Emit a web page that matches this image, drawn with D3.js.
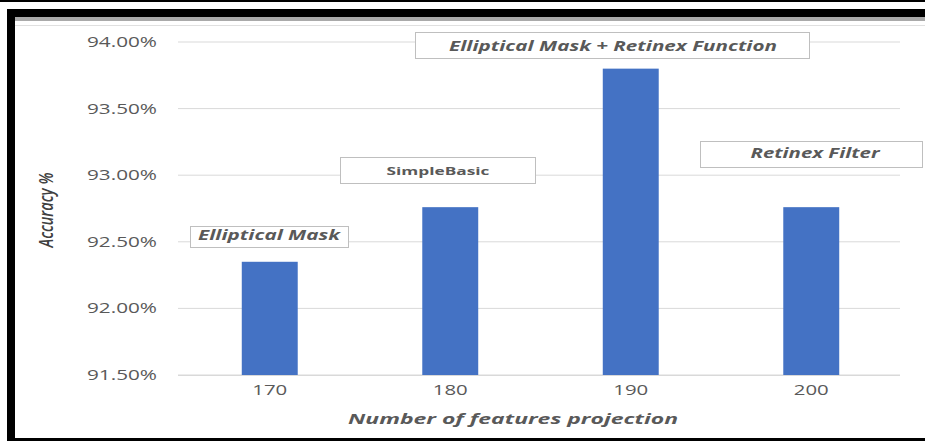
<!DOCTYPE html>
<html>
<head>
<meta charset="utf-8">
<script src="https://cdn.jsdelivr.net/npm/d3@7"></script>
<style>
  body { margin: 0; background: #fff; }
  svg { display: block; font-family: "Open Sans", sans-serif; }
</style>
</head>
<body>
<svg id="chart" width="925" height="441"></svg>
<script>
var categories = ['170', '180', '190', '200'];
var accuracy = [92.35, 92.76, 93.80, 92.76];
var yTicks = [91.5, 92.0, 92.5, 93.0, 93.5, 94.0];
var labels = ['Elliptical Mask', 'SimpleBasic', 'Elliptical Mask + Retinex Function', 'Retinex Filter'];

var svg = d3.select('#chart');
// note: "top" is taken by window.top, so plot edges get their own names
var plotLeft = 178, plotRight = 900, plotTop = 42, plotBottom = 375;
var grey = '#595959';

// frame bits round the picture
svg.append('rect').attr('x', 0).attr('y', 0).attr('width', 925).attr('height', 2).attr('fill', '#000');
svg.append('rect').attr('x', 7).attr('y', 9).attr('width', 918).attr('height', 8).attr('fill', '#000');
svg.append('rect').attr('x', 15).attr('y', 17).attr('width', 910).attr('height', 4).attr('fill', '#aaa');
svg.append('rect').attr('x', 15).attr('y', 25).attr('width', 910).attr('height', 1).attr('fill', '#e0e0e0');
svg.append('rect').attr('x', 7).attr('y', 9).attr('width', 8).attr('height', 432).attr('fill', '#000');
svg.append('rect').attr('x', 7).attr('y', 438).attr('width', 918).attr('height', 3).attr('fill', '#000');

var x = d3.scaleBand().domain(categories).range([plotLeft + 1.5, plotRight + 1.5]).paddingInner(0.69).paddingOuter(0.345);
var y = d3.scaleLinear().domain([91.5, 94.0]).range([plotBottom, plotTop]);

// gridlines
svg.append('g').selectAll('line').data(yTicks).enter().append('line')
	.attr('x1', plotLeft).attr('x2', plotRight)
	.attr('y1', function(d){ return y(d); })
	.attr('y2', function(d){ return y(d); })
	.attr('stroke', '#d9d9d9').attr('stroke-width', 1);

// y axis labels
var yAxis = d3.axisLeft(y).tickValues(yTicks).tickSize(0).tickPadding(21)
	.tickFormat(function(d){ return d.toFixed(2) + '%'; });
var gy = svg.append('g').attr('transform', 'translate(' + plotLeft + ',0)').call(yAxis);
gy.select('.domain').remove();
gy.selectAll('text')
	.attr('fill', grey).attr('font-size', 14)
	.attr('font-family', '"Open Sans", sans-serif')
	.attr('textLength', 70).attr('lengthAdjust', 'spacingAndGlyphs');

// bars
svg.append('g').selectAll('rect').data(accuracy).enter().append('rect')
	.attr('x', function(d, i){ return x(categories[i]); })
	.attr('width', x.bandwidth())
	.attr('y', function(d){ return y(d); })
	.attr('height', function(d){ return plotBottom - y(d); })
	.attr('fill', '#4472c4');

// x axis
var xAxis = d3.axisBottom(x).tickSize(0).tickPadding(10);
var gx = svg.append('g').attr('transform', 'translate(0,' + plotBottom + ')').call(xAxis);
gx.select('.domain').attr('stroke', '#d9d9d9').attr('d', 'M' + plotLeft + ',0.5H' + plotRight);
gx.selectAll('text')
	.attr('fill', grey).attr('font-size', 14)
	.attr('font-family', '"Open Sans", sans-serif')
	.attr('textLength', 35).attr('lengthAdjust', 'spacingAndGlyphs');

// axis titles
svg.append('text')
	.attr('x', 513).attr('y', 424).attr('text-anchor', 'middle')
	.attr('font-size', 15).attr('font-weight', 'bold').attr('font-style', 'italic')
	.attr('fill', grey)
	.attr('textLength', 330).attr('lengthAdjust', 'spacingAndGlyphs')
	.text('Number of features projection');

svg.append('text')
	.attr('transform', 'translate(53,210) scale(1.35,1) rotate(-90)')
	.attr('text-anchor', 'middle')
	.attr('font-size', 14).attr('font-weight', 600).attr('font-style', 'italic')
	.attr('fill', '#404040')
	.attr('textLength', 75).attr('lengthAdjust', 'spacingAndGlyphs')
	.text('Accuracy %');

// label boxes
var boxes = [
	{x: 190, y: 226, w: 158, h: 21, tx: 269, ty: 240, tw: 142, size: 14, italic: true},
	{x: 340, y: 157, w: 195, h: 26, tx: 438, ty: 175, tw: 103, size: 11, italic: false},
	{x: 415, y: 32, w: 394, h: 26, tx: 613, ty: 51, tw: 328, size: 14, italic: true},
	{x: 700, y: 141, w: 222, h: 26, tx: 815, ty: 158, tw: 129, size: 14, italic: true}
];
var gb = svg.append('g').selectAll('g').data(boxes).enter().append('g');
gb.append('rect')
	.attr('x', function(d){ return d.x + 0.5; })
	.attr('y', function(d){ return d.y + 0.5; })
	.attr('width', function(d){ return d.w; })
	.attr('height', function(d){ return d.h; })
	.attr('fill', '#fff').attr('stroke', '#bfbfbf');
gb.append('text')
	.attr('x', function(d){ return d.tx; })
	.attr('y', function(d){ return d.ty; })
	.attr('text-anchor', 'middle')
	.attr('font-size', function(d){ return d.size; })
	.attr('font-weight', 'bold')
	.attr('font-style', function(d){ return d.italic ? 'italic' : 'normal'; })
	.attr('fill', grey)
	.attr('textLength', function(d){ return d.tw; })
	.attr('lengthAdjust', 'spacingAndGlyphs')
	.text(function(d, i){ return labels[i]; });
</script>
</body>
</html>
